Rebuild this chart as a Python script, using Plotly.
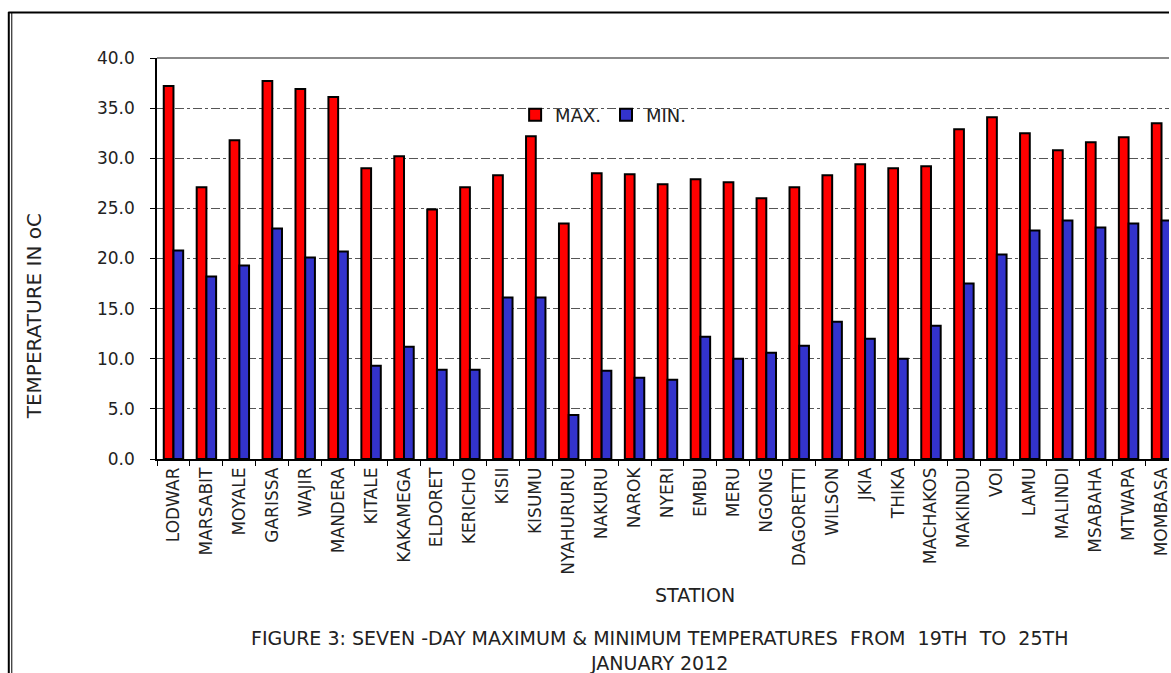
import plotly.graph_objects as go

stations = ["LODWAR", "MARSABIT", "MOYALE", "GARISSA", "WAJIR", "MANDERA", "KITALE",
            "KAKAMEGA", "ELDORET", "KERICHO", "KISII", "KISUMU", "NYAHURURU", "NAKURU",
            "NAROK", "NYERI", "EMBU", "MERU", "NGONG", "DAGORETTI", "WILSON", "JKIA",
            "THIKA", "MACHAKOS", "MAKINDU", "VOI", "LAMU", "MALINDI", "MSABAHA",
            "MTWAPA", "MOMBASA"]
max_temp = [37.2, 27.1, 31.8, 37.7, 36.9, 36.1, 29.0, 30.2, 24.9, 27.1, 28.3, 32.2,
            23.5, 28.5, 28.4, 27.4, 27.9, 27.6, 26.0, 27.1, 28.3, 29.4, 29.0, 29.2,
            32.9, 34.1, 32.5, 30.8, 31.6, 32.1, 33.5]
min_temp = [20.8, 18.2, 19.3, 23.0, 20.1, 20.7, 9.3, 11.2, 8.9, 8.9, 16.1, 16.1,
            4.4, 8.8, 8.1, 7.9, 12.2, 10.0, 10.6, 11.3, 13.7, 12.0, 10.0, 13.3,
            17.5, 20.4, 22.8, 23.8, 23.1, 23.5, 23.8]
y_ticks = [0, 5, 10, 15, 20, 25, 30, 35, 40]

W, H = 1171, 673
# plot-area edges in window pixels
PL, PR, PT, PB = 157, 1171, 58, 459
CAT_W = 33.0
FONT = "DejaVu Sans"
TXT = "#222222"


def fx(p):
    return (p - PL) / (PR - PL)


def fy(p):
    return (PB - p) / (PB - PT)


fig = go.Figure()
fig.add_trace(go.Bar(name="MAX.", x=stations, y=max_temp,
                     marker=dict(color="#FF0000", line=dict(color="#000000", width=2))))
fig.add_trace(go.Bar(name="MIN.", x=stations, y=min_temp,
                     marker=dict(color="#3333CC", line=dict(color="#000000", width=2))))

shapes = [
    # plot-area top border
    dict(type="line", xref="paper", yref="paper", x0=0, x1=1, y0=1, y1=1,
         line=dict(color="#8a8a8a", width=2), layer="above"),
    # outer frame (double line at left, line on top)
    dict(type="line", xref="paper", yref="paper", x0=fx(8.5), x1=fx(8.5), y0=fy(12), y1=fy(673),
         line=dict(color="#000000", width=2)),
    dict(type="line", xref="paper", yref="paper", x0=fx(11.5), x1=fx(11.5), y0=fy(12), y1=fy(673),
         line=dict(color="#000000", width=1)),
    dict(type="line", xref="paper", yref="paper", x0=fx(8), x1=fx(1171), y0=fy(12.5), y1=fy(12.5),
         line=dict(color="#000000", width=2)),
]

annotations = [
    dict(text="TEMPERATURE IN oC", xref="paper", yref="paper", x=fx(34), y=fy(316),
         textangle=-90, showarrow=False, xanchor="center", yanchor="middle",
         font=dict(family=FONT, size=20, color=TXT)),
    dict(text="STATION", xref="paper", yref="paper", x=fx(696), y=fy(595),
         showarrow=False, xanchor="center", yanchor="middle",
         font=dict(family=FONT, size=19, color=TXT)),
    dict(text="FIGURE 3: SEVEN -DAY MAXIMUM & MINIMUM TEMPERATURES \u00a0FROM \u00a019TH \u00a0TO \u00a025TH<br>JANUARY 2012",
         xref="paper", yref="paper", x=fx(660), y=fy(650),
         showarrow=False, xanchor="center", yanchor="middle", align="center",
         font=dict(family=FONT, size=19, color=TXT)),
]

fig.update_layout(
    width=W, height=H, autosize=False,
    margin=dict(l=PL, r=W - PR, t=PT, b=H - PB, pad=0),
    paper_bgcolor="white", plot_bgcolor="white",
    barmode="group", bargap=0.41, bargroupgap=0,
    font=dict(family=FONT, size=17, color=TXT),
    showlegend=True,
    legend=dict(orientation="h", x=fx(604), y=fy(115), xanchor="center", yanchor="middle",
                bgcolor="rgba(0,0,0,0)", borderwidth=0,
                font=dict(family=FONT, size=18, color=TXT), traceorder="normal"),
    shapes=shapes,
    annotations=annotations,
    xaxis=dict(
        type="category",
        range=[-0.5, -0.5 + (PR - PL) / CAT_W],
        showline=True, linecolor="#000000", linewidth=1.5,
        ticks="outside", tickson="boundaries", ticklen=5, tickcolor="#000000", tickwidth=1,
        tickangle=-90, tickfont=dict(family=FONT, size=17, color=TXT),
        showgrid=False, zeroline=False, fixedrange=True,
    ),
    yaxis=dict(
        range=[0, 40],
        tickvals=y_ticks, tickformat=".1f",
        showline=True, linecolor="#000000", linewidth=1.5,
        ticks="outside", ticklen=5, tickcolor="#000000", tickwidth=1,
        ticklabelstandoff=12,
        tickfont=dict(family=FONT, size=17, color=TXT),
        showgrid=True, gridcolor="#555555", gridwidth=1, griddash="dashdot",
        zeroline=False, fixedrange=True,
    ),
)

fig.write_html(
    "out.html",
    config={"displayModeBar": False},
    post_script="document.body.style.margin='0px';document.body.style.overflow='hidden';",
)
